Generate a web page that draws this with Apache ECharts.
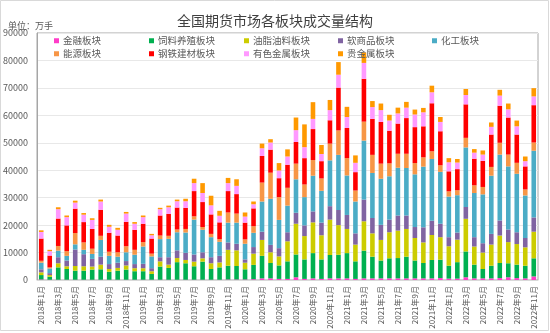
<!DOCTYPE html>
<html>
<head>
<meta charset="utf-8">
<script src="https://cdn.jsdelivr.net/npm/echarts@6/dist/echarts.min.js"></script>
<style>
html,body{margin:0;padding:0;background:#fff;}
#main{width:550px;height:333px;}
</style>
</head>
<body>
<div id="main"></div>
<script>
// Categories: monthly, 2018-01 .. 2022-11
var categories = [];
for (var y = 2018; y <= 2022; y++) {
  for (var m = 1; m <= 12; m++) {
    if (y === 2022 && m > 11) break;
    categories.push(y + '年' + m + '月');
  }
}
var seriesNames = ['金融板块','饲料养殖板块','油脂油料板块','软商品板块','化工板块','能源板块','钢铁建材板块','有色金属板块','贵金属板块'];
var seriesColors = ['#FF3CC8','#00B050','#CCCC00','#8064A2','#4BACC6','#F79646','#FF0000','#FF99FF','#FF9900'];

var finance = [200,100,100,100,100,100,100,100,100,100,100,100,100,100,100,100,100,100,100,100,100,100,200,200,200,300,600,600,400,400,1000,400,600,400,600,600,600,400,600,600,600,600,600,600,600,600,600,700,500,500,1000,600,600,600,700,1000,700,600,1300];
var feed = [1600,1100,4500,3900,3300,3300,3700,3800,2900,3300,3700,3100,3100,2100,4800,4300,6400,6000,4900,6600,3900,4500,5000,4900,3700,5200,8200,5600,4900,6400,8300,7100,9200,7100,8500,8600,9200,6400,10100,7900,6500,7300,7400,7900,6500,5600,6700,6700,4700,6000,9400,5000,3400,4600,5500,5100,4900,4600,6600];
var oilseed = [1000,600,1500,1000,1700,1600,1100,1700,1000,1000,1500,1100,1100,1000,1900,1200,1500,1200,1700,1200,2100,1800,5800,5700,2400,4100,5800,3900,3300,7300,11200,8500,11200,8800,12900,10800,8800,6100,10700,8500,7500,9500,10000,10100,8200,7500,9100,8200,7100,8200,11900,6600,6000,7700,10000,7700,7500,6700,9700];
var softs = [1100,700,2200,2100,6000,4400,2800,2900,1800,1900,1600,1500,1600,1100,1500,2700,2800,2600,2600,2200,2200,2400,2700,2400,1200,2400,3000,2700,3000,3300,4000,3900,4000,4600,4900,5500,5100,4100,7900,5600,5500,4600,5500,4900,4000,5500,5200,4900,3300,2600,4300,3400,3400,3900,5500,4600,4300,3400,5200];
var chemical = [2400,1700,2400,1700,1900,1600,1800,6100,3000,2200,3200,3400,6300,4300,6600,6700,6600,7400,12700,8200,7300,5100,7200,7700,5700,5200,11000,16800,10300,9700,12200,10300,13000,11600,16700,20100,14400,11600,21500,16400,16800,15800,17400,17300,19200,22100,22500,18900,14800,13600,21700,16100,17800,21200,24000,23000,21300,15500,24300];
var energy = [700,400,1700,1700,4100,2700,1900,1500,1500,1600,2200,1800,1600,1000,1300,1100,1000,1300,1200,1000,1200,1000,3700,3300,1600,2400,6900,9500,8300,6500,5700,4600,5700,4500,6100,8900,6300,4000,6900,6600,5500,4700,5100,5200,4100,3400,2800,2400,1900,1800,3500,2800,2700,3200,4300,4300,4000,2200,3000];
var steel = [8100,4300,10000,9400,8900,7400,7200,9500,6900,6100,8900,7300,6700,5500,7300,8000,8000,7700,9200,9100,7100,6100,7800,7100,6100,6500,9700,8400,6900,8400,7900,9600,11300,6300,8500,15600,11000,6700,15600,13100,15200,11900,11000,13000,13100,11300,17500,12400,7300,7700,12200,9700,9500,11800,13500,13500,10300,8400,13600];
var nonferrous = [2400,1600,3400,3000,2200,2700,3300,3000,2200,2100,3000,2200,2400,1200,2300,2400,2300,2400,2900,3300,3300,2400,2900,3000,2200,1500,2800,2600,2800,3000,4300,4000,3700,2600,3700,4700,4000,3400,5800,4300,4300,3700,3700,3800,4600,5100,4000,3400,3300,2400,3400,2200,2300,2800,3700,3000,3000,1900,3200];
var precious = [600,500,700,600,700,600,600,700,700,700,600,600,600,500,500,600,600,900,1600,3600,3500,1800,1900,2400,1500,1000,1700,1200,2700,2600,4600,8300,6100,3300,3700,4600,3700,2700,3800,2200,2400,2100,2100,2100,1800,1600,2400,1800,1500,1300,2200,1300,1500,1600,2100,2100,2100,1700,3000];

var yTicks = {min: 0, max: 90000, interval: 10000};
var allData = [finance, feed, oilseed, softs, chemical, energy, steel, nonferrous, precious];

var legendPos = [[54,36],[149,36],[244,36],[338,36],[432,36],[54,49],[149,49],[244,49],[338,49]];

var chart = echarts.init(document.getElementById('main'), null, {renderer: 'canvas'});
var font = '"Microsoft YaHei","Noto Sans CJK SC",sans-serif';

var series = seriesNames.map(function (n, i) {
  return {
    name: n,
    type: 'bar',
    stack: 'total',
    barWidth: 4.6,
    data: allData[i],
    itemStyle: {color: seriesColors[i]},
    emphasis: {disabled: true}
  };
});

var legends = seriesNames.map(function (n, i) {
  return {
    data: [n],
    left: legendPos[i][0],
    top: legendPos[i][1],
    padding: 0,
    icon: 'rect',
    itemWidth: 5,
    itemHeight: 5,
    selectedMode: false,
    textStyle: {fontSize: 9.5, color: '#595959', fontFamily: font, padding: [0,0,0,-1]}
  };
});

chart.setOption({
  animation: false,
  backgroundColor: '#fff',
  title: [
    {text: '全国期货市场各板块成交量结构', left: 'center', top: 9,
     textStyle: {fontSize: 14, fontWeight: 'normal', color: '#404040', fontFamily: font}},
    {text: '单位：万手', left: 3, top: 16,
     textStyle: {fontSize: 9, fontWeight: 'normal', color: '#595959', fontFamily: font}}
  ],
  legend: legends,
  grid: {left: 37, top: 33, right: 12, bottom: 53, show: true, borderColor: '#a6a6a6', borderWidth: 1},
  xAxis: {
    type: 'category',
    data: categories,
    axisTick: {show: false},
    axisLine: {show: true, lineStyle: {color: '#d9d9d9'}},
    axisLabel: {interval: 1, rotate: 90, fontSize: 8, color: '#595959', margin: 6, fontFamily: font}
  },
  yAxis: {
    type: 'value',
    min: yTicks.min, max: yTicks.max, interval: yTicks.interval,
    axisLine: {show: true, lineStyle: {color: '#a6a6a6'}},
    axisTick: {show: false},
    splitLine: {lineStyle: {color: '#e8e8e8'}},
    axisLabel: {fontSize: 9, color: '#595959', margin: 9, fontFamily: font,
      formatter: function (v) { return String(v); }}
  },
  graphic: [{
    type: 'rect', silent: true, z: -1,
    shape: {x: 0.5, y: 0.5, width: 548, height: 330},
    style: {fill: null, stroke: '#d9d9d9', lineWidth: 1}
  }],
  series: series
});
</script>
</body>
</html>
